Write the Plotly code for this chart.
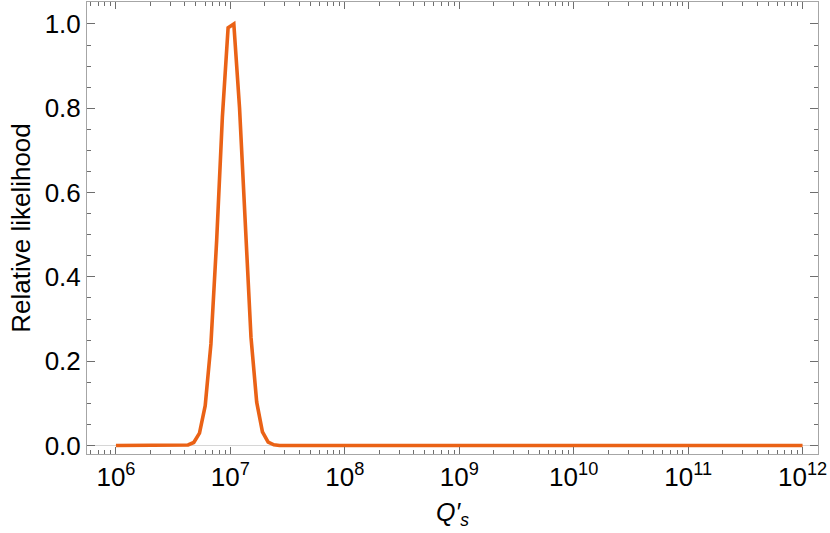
import plotly.graph_objects as go

# log10(Q's) sample positions and relative likelihood
log_q = [6.0, 6.53, 6.58, 6.63, 6.68, 6.73, 6.78, 6.83, 6.88, 6.93, 6.98, 7.03,
         7.08, 7.13, 7.18, 7.23, 7.28, 7.33, 7.38, 7.43, 7.48, 12.0]
likelihood = [0.0, 0.0, 0.0002, 0.0014, 0.0073, 0.0295, 0.0947, 0.241, 0.486, 0.779,
              0.991, 1.0, 0.801, 0.509, 0.257, 0.103, 0.0327, 0.0082, 0.0017, 0.0003,
              0.0, 0.0]

x_tick_exps = [6, 7, 8, 9, 10, 11, 12]
y_tick_vals = [0.0, 0.2, 0.4, 0.6, 0.8, 1.0]

q_vals = [10 ** v for v in log_q]
x_tickvals = [10 ** e for e in x_tick_exps]
x_ticktext = ["10<sup>%d</sup>" % e for e in x_tick_exps]
x_minor = [k * 10 ** e for e in range(5, 13) for k in range(2, 10)]

FONT = "Liberation Sans, Arial, Helvetica, sans-serif"
FRAME = "#a6a6a6"
TICK = "#6e6e6e"

fig = go.Figure()
fig.add_trace(go.Scatter(
    x=q_vals, y=likelihood, mode="lines",
    line=dict(color="rgb(234,98,22)", width=3.6),
    showlegend=False, hoverinfo="skip",
))

fig.update_layout(
    width=830, height=533,
    margin=dict(l=87, r=12, t=2, b=79),
    paper_bgcolor="white", plot_bgcolor="white",
    font=dict(family=FONT, color="black", size=26),
)

fig.update_xaxes(
    type="log", range=[5.747, 12.135], automargin=False,
    showline=True, linecolor=FRAME, linewidth=1, mirror="allticks",
    showgrid=False, zeroline=False,
    tickmode="array", tickvals=x_tickvals, ticktext=x_ticktext,
    ticks="inside", ticklen=7, tickcolor=TICK, tickwidth=1,
    tickfont=dict(size=26, family=FONT),
    minor=dict(tickmode="array", tickvals=x_minor, ticks="inside",
               ticklen=4, tickcolor=TICK, showgrid=False),
    title=dict(text="<i>Q′</i><sub><i>s</i></sub>", font=dict(size=25, family=FONT),
               standoff=12),
)

fig.update_yaxes(
    range=[-0.020, 1.052], automargin=False,
    showline=True, linecolor=FRAME, linewidth=1, mirror="allticks",
    showgrid=False,
    zeroline=True, zerolinecolor="#d6d6d6", zerolinewidth=1,
    tickmode="array", tickvals=y_tick_vals, ticktext=["%.1f" % v for v in y_tick_vals],
    ticks="inside", ticklen=8, tickcolor=TICK, tickwidth=1,
    tickfont=dict(size=26, family=FONT),
    minor=dict(dtick=0.05, ticks="inside", ticklen=4, tickcolor=TICK, showgrid=False),
    title=dict(text="Relative likelihood", font=dict(size=26, family=FONT), standoff=6),
)

fig.write_html(
    "out.html",
    config={"displayModeBar": False},
    post_script="document.body.style.margin='0';document.body.style.overflow='hidden';",
)
